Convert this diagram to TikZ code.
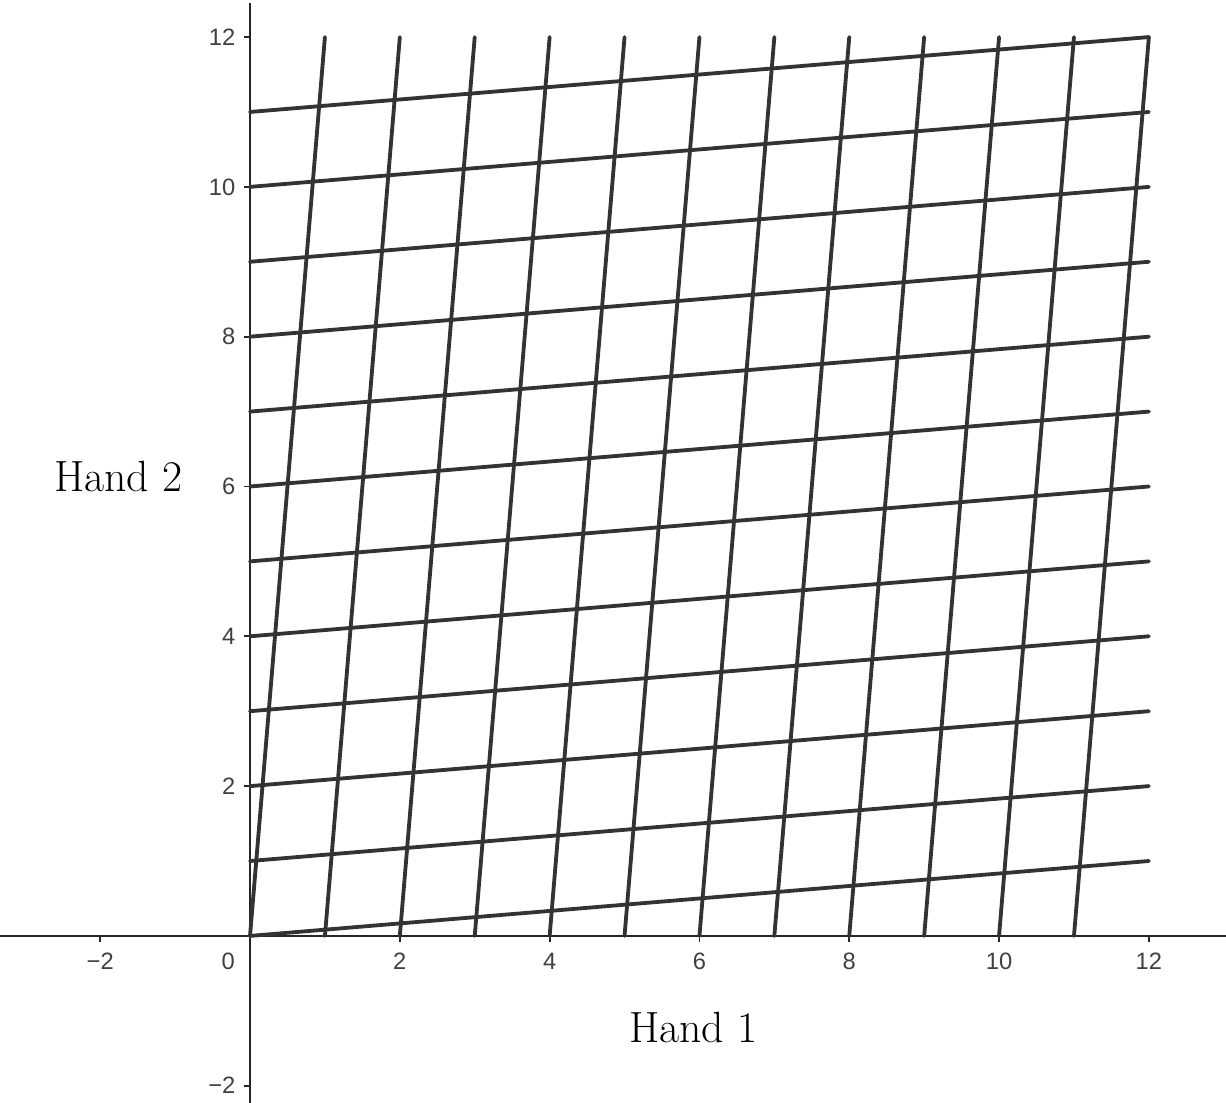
\documentclass[tikz,border=0pt]{standalone}
\usepackage{fontspec}
\newfontfamily\ticksans{Liberation Sans}
\begin{document}
\begin{tikzpicture}[x=1cm,y=1cm,
  gridline/.style={line width=1.45pt, draw=black!80, line cap=round},
  axisline/.style={line width=0.7pt, draw=black!85},
  ticklab/.style={font=\ticksans\fontsize{9}{10}\selectfont, text=black!75, inner sep=0pt},
  axtitle/.style={font=\fontsize{16.6}{19}\selectfont, inner sep=0pt}]
\useasboundingbox (-3.338,-2.225) rectangle (13.03,12.495);
% axes
\coordinate (xl) at (-3.338,0);
\coordinate (xr) at (13.03,0);
\coordinate (yb) at (0,-2.225);
\coordinate (yt) at (0,12.46);
\draw[axisline] (xl) -- (xr);
\draw[axisline] (yb) -- (yt);
% x ticks
\foreach \v in {-2,2,4,6,8,10,12}{
  \draw[axisline] (\v,0) -- (\v,-0.08);
  \node[ticklab] (xt\v) at (\v,-0.34) {\ifnum\v<0 −\the\numexpr-\v\relax\else\v\fi};
}
\node[ticklab] (xt0) at (-0.29,-0.34) {0};
% y ticks
\foreach \v in {-2,2,4,6,8,10,12}{
  \draw[axisline] (0,\v) -- (-0.08,\v);
  \node[ticklab, anchor=east] (yt\v) at (-0.19,\v) {\ifnum\v<0 −\the\numexpr-\v\relax\else\v\fi};
}
% grid
\foreach \k in {0,...,11}{
  \pgfmathtruncatemacro{\kk}{\k+1}
  \coordinate (b\k) at (\k,0);
  \coordinate (t\k) at (\kk,12);
  \coordinate (l\k) at (0,\k);
  \coordinate (r\k) at (12,\kk);
  \draw[gridline] (b\k) -- (t\k);
  \draw[gridline] (l\k) -- (r\k);
}
% titles
\node[axtitle] (h1) at (5.92,-1.22) {Hand 1};
\node[axtitle] (h2) at (-1.76,6.13) {Hand 2};
\end{tikzpicture}
\end{document}
